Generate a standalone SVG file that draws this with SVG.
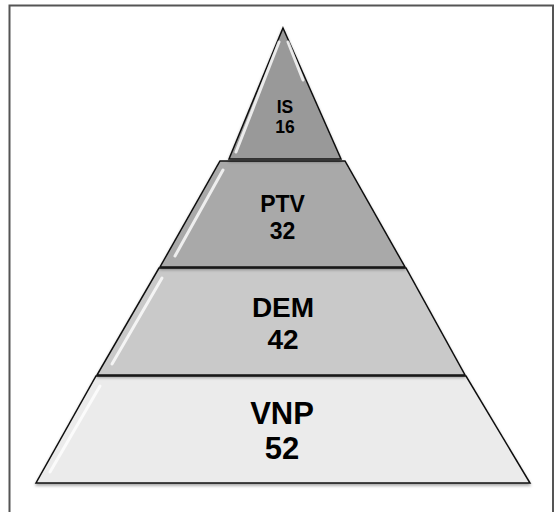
<svg xmlns="http://www.w3.org/2000/svg" width="557" height="512" viewBox="0 0 557 512">
<defs>
<filter id="sh" x="-10%" y="-10%" width="120%" height="130%">
<feDropShadow dx="0" dy="2" stdDeviation="1.5" flood-color="#000" flood-opacity="0.35"/>
</filter>
<style>
.layer{stroke:#111;stroke-width:1.5;stroke-linejoin:miter;filter:url(#sh)}
.hl{fill:none;stroke:#fff;stroke-width:3;stroke-linecap:round;opacity:0.8}
.t{font-family:"Liberation Sans",Arial,sans-serif;font-weight:bold;fill:#000;text-anchor:middle}
</style>
</defs>
<rect x="0" y="0" width="557" height="512" fill="#fff"/>
<rect x="9.5" y="5.5" width="543.5" height="520" fill="none" stroke="#555" stroke-width="2"/>
<g id="vnp">
<polygon class="layer" points="96,376 466,376 530,483 36,483" fill="#ebebeb"/>
<polyline class="hl" points="100,386 50,472"/>
<text class="t" font-size="31"><tspan x="282" y="424">VNP</tspan><tspan x="282" y="459">52</tspan></text>
</g>
<g id="dem">
<polygon class="layer" points="159,268 406,268 465,375 97,375" fill="#c9c9c9"/>
<polyline class="hl" points="162,278 112,364"/>
<text class="t" font-size="28"><tspan x="283" y="317">DEM</tspan><tspan x="283" y="349">42</tspan></text>
</g>
<g id="ptv">
<polygon class="layer" points="220,161 345,161 405,267 160,267" fill="#a9a9a9"/>
<polyline class="hl" points="223,170 175,256"/>
<text class="t" font-size="23"><tspan x="282.5" y="212">PTV</tspan><tspan x="282.5" y="239">32</tspan></text>
</g>
<g id="is">
<polygon class="layer" points="283,28 341,159 229,159" fill="#999999"/>
<polyline class="hl" points="279,42 236,152"/>
<polyline class="hl" points="288,42 303,80" stroke-width="2" opacity="0.6"/>
<text class="t" font-size="17.5"><tspan x="285" y="113">IS</tspan><tspan x="285" y="133">16</tspan></text>
</g>
</svg>
